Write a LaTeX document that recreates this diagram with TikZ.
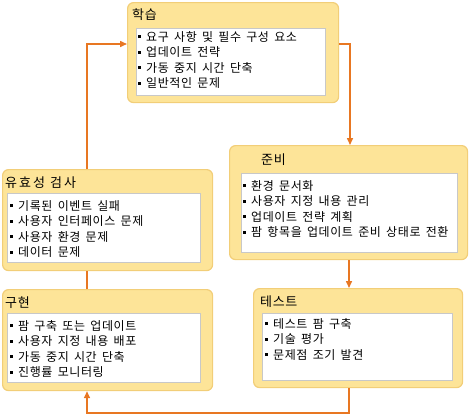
\documentclass[tikz,border=0pt]{standalone}
\usepackage{fontspec}
\setmainfont[WordSpace=1.6,LetterSpace=5]{Noto Sans CJK KR}
\usetikzlibrary{arrows.meta}
\definecolor{boxfill}{RGB}{253,228,152}
\definecolor{boxline}{RGB}{242,206,120}
\definecolor{innerline}{RGB}{200,200,200}
\definecolor{flow}{RGB}{232,119,34}
\newcommand{\bul}{\rule[3pt]{3pt}{3pt}\hspace{5pt}}
\tikzset{
  outer/.style={draw=boxline, line width=1.2pt, fill=boxfill, rounded corners=6pt, anchor=north west, inner sep=0pt},
  inner/.style={draw=innerline, line width=0.6pt, fill=white, anchor=north west, inner sep=0pt},
  title/.style={anchor=west, inner sep=0pt, font=\fontsize{13}{15}\selectfont},
  list/.style={anchor=north west, inner sep=0pt, align=left, font=\fontsize{12}{15.5}\selectfont},
  flowline/.style={draw=flow, line width=1.5pt},
  flowarrow/.style={flowline, -{Triangle[length=7pt,width=6pt]}}
}
\begin{document}
\begin{tikzpicture}[x=1pt,y=-1pt]
\useasboundingbox (0,0) rectangle (471,416);
% 학습
\node[outer, minimum width=211pt, minimum height=100pt] (learn) at (127,2) {};
\node[inner, minimum width=189pt, minimum height=67pt] (learnin) at (136,28) {};
\node[title] (learnt) at (132,15) {학습};
\node[list] (learnl) at (138,31) {\bul 요구 사항 및 필수 구성 요소\\ \bul 업데이트 전략\\ \bul 가동 중지 시간 단축\\ \bul 일반적인 문제};
% 준비
\node[outer, minimum width=238pt, minimum height=114pt] (prep) at (229,145) {};
\node[inner, minimum width=216pt, minimum height=79pt] (prepin) at (241,173) {};
\node[title] (prept) at (261,160) {준비};
\node[list] (prepl) at (243,180) {\bul 환경 문서화\\ \bul 사용자 지정 내용 관리\\ \bul 업데이트 전략 계획\\ \bul 팜 항목을 업데이트 준비 상태로 전환};
% 유효성 검사
\node[outer, minimum width=210pt, minimum height=101pt] (valid) at (2,169) {};
\node[inner, minimum width=193pt, minimum height=69pt] (validin) at (7,193) {};
\node[title] (validt) at (5,183) {유\kern2pt 효\kern2pt 성\hspace{5pt}검\kern2pt 사};
\node[list] (validl) at (10,200) {\bul 기록된 이벤트 실패\\ \bul 사용자 인터페이스 문제\\ \bul 사용자 환경 문제\\ \bul 데이터 문제};
% 구현
\node[outer, minimum width=210pt, minimum height=101pt] (impl) at (2,289) {};
\node[inner, minimum width=193pt, minimum height=69pt] (implin) at (7,313) {};
\node[title] (implt) at (5,303) {구현};
\node[list] (impll) at (10,320) {\bul 팜 구축 또는 업데이트\\ \bul 사용자 지정 내용 배포\\ \bul 가동 중지 시간 단축\\ \bul 진행률 모니터링};
% 테스트
\node[outer, minimum width=209pt, minimum height=99pt] (test) at (253,288) {};
\node[inner, minimum width=190pt, minimum height=67pt] (testin) at (262,313) {};
\node[title] (testt) at (260,302) {테스트};
\node[list] (testl) at (265,318) {\bul 테스트 팜 구축\\ \bul 기술 평가\\ \bul 문제점 조기 발견};
% connectors
\coordinate (c1) at (87,44);
\coordinate (c2) at (350,44);
\coordinate (c3) at (349,413);
\coordinate (c4) at (87,413);
\draw[flowline] (impl.north -| c1) -- (valid.south -| c1);
\draw[flowarrow] (valid.north -| c1) -- (c1) -- (c1 -| learn.west);
\draw[flowarrow] (c2 -| learn.east) -- (c2) -- (c2 |- prep.north);
\draw[flowarrow] (prep.south -| c3) -- (test.north -| c3);
\draw[flowarrow] (test.south -| c3) -- (c3) -- (c4) -- (c4 |- impl.south);
\end{tikzpicture}
\end{document}
